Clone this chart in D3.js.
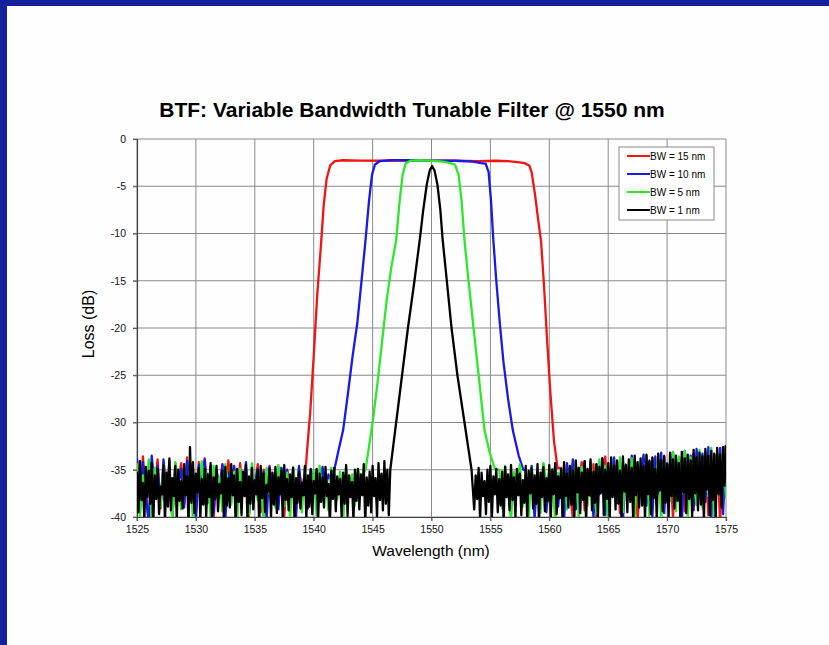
<!DOCTYPE html>
<html>
<head>
<meta charset="utf-8">
<script src="https://cdn.jsdelivr.net/npm/d3@7"></script>
<style>
  body { margin: 0; background: #fff; }
  svg { display: block; font-family: "Liberation Sans", Arial, sans-serif; }
</style>
</head>
<body>
<div id="chart"></div>
<script>
// les données (longueur d'onde en nm, perte en dB)
const STEP = 0.25;       // pas du bruit, courbes de couleur
const STEP_FINE = 0.125; // pas du bruit, courbe noire

const xTicks = [1525, 1530, 1535, 1540, 1545, 1550, 1555, 1560, 1565, 1570, 1575];
const yTicks = [0, -5, -10, -15, -20, -25, -30, -35, -40];
const names = ['BW = 15 nm', 'BW = 10 nm', 'BW = 5 nm', 'BW = 1 nm'];

// BW = 15 nm
const redLeftStart = 1525;
const redLeft = [
  -34.0,-38.9,-33.6,-37.2,-40.5,-34.4,-36.8,-33.9,-39.1,-34.8,
  -37.5,-34.1,-40.2,-35.0,-36.4,-34.3,-38.7,-33.7,-37.9,-34.9,
  -39.8,-34.2,-36.9,-33.8,-38.3,-34.6,-40.4,-35.1,-37.0,-34.5,
  -39.2,-34.0,-36.5,-34.9,-38.8,-34.3,-37.6,-35.2,-40.1,-34.7,
  -36.7,-34.4,-39.5,-35.0,-37.8,-34.6,-38.5,-35.3,-36.2,-34.8,
  -39.9,-35.1,-37.3,-34.9,-38.0,-35.2,-36.9];
const redPass = [
  [1539.3,-35.2],[1539.5,-32],[1539.7,-29],[1540.0,-23],[1540.3,-16.5],[1540.6,-11.5],
  [1540.85,-7],[1541.1,-4.2],[1541.4,-2.8],[1541.8,-2.35],[1542.5,-2.25],[1544,-2.28],
  [1546,-2.3],[1548,-2.25],[1550,-2.3],[1552,-2.3],[1554,-2.35],[1555.5,-2.3],
  [1556.5,-2.35],[1557.3,-2.45],[1557.9,-2.55],[1558.3,-2.8],[1558.5,-3.5],[1558.8,-6],
  [1559.05,-8.5],[1559.3,-10.8],[1559.55,-15.5],[1559.8,-21],[1560.1,-27],[1560.4,-32],[1560.7,-34.8]];
const redRightStart = 1561;
const redRight = [
  -34.8,-38.6,-34.5,-37.1,-40.2,-34.9,-36.6,-34.2,-39.3,-35.0,
  -37.8,-34.4,-40.0,-35.3,-36.9,-33.6,-38.8,-34.7,-37.4,-34.1,
  -39.6,-35.0,-36.3,-34.5,-38.2,-33.9,-40.3,-34.8,-37.0,-34.2,
  -39.1,-33.8,-36.7,-34.6,-38.4,-33.5,-37.7,-34.3,-40.1,-33.9,
  -36.4,-33.6,-39.4,-34.5,-37.6,-33.3,-38.7,-34.0,-36.1,-33.2,
  -39.8,-34.2,-37.2,-33.4,-40.6,-33.1,-32.4];

// BW = 10 nm
const blueLeftStart = 1525;
const blueLeft = [
  -33.8,-39.4,-34.2,-37.6,-40.8,-33.5,-36.9,-34.6,-38.8,-33.9,
  -37.3,-34.8,-40.1,-34.3,-36.5,-34.9,-39.0,-34.1,-37.8,-35.2,
  -40.4,-34.5,-36.7,-33.9,-38.5,-34.7,-39.6,-35.0,-37.1,-34.4,
  -40.2,-35.3,-36.8,-34.6,-38.9,-35.1,-37.5,-34.2,-39.7,-35.4,
  -36.6,-34.9,-38.1,-35.2,-40.3,-34.7,-37.4,-35.5,-39.2,-34.8,
  -36.9,-35.0,-38.6,-35.3,-40.0,-34.6,-37.7,-35.4,-39.1,-34.9,
  -36.3,-35.2,-38.4,-34.7,-37.0,-35.5,-36.2];
const bluePass = [
  [1541.75,-35],[1542.1,-33],[1542.5,-30.8],[1542.9,-27],[1543.3,-23],[1543.7,-19.5],
  [1544.1,-14.5],[1544.4,-10.7],[1544.7,-6.5],[1544.95,-3.8],[1545.2,-2.7],[1545.6,-2.35],
  [1546.5,-2.25],[1548,-2.25],[1550,-2.28],[1552,-2.3],[1553.5,-2.4],[1554.2,-2.55],
  [1554.6,-2.6],[1554.85,-3.5],[1555.05,-6.5],[1555.25,-10.7],[1555.5,-15],[1555.8,-19.5],
  [1556.1,-23.5],[1556.5,-27.5],[1556.9,-30.8],[1557.4,-33.5],[1557.8,-35]];
const blueRightStart = 1558;
const blueRight = [
  -35.1,-38.7,-34.6,-40.2,-35.3,-37.1,-34.4,-39.5,-35.0,-36.8,
  -34.7,-38.9,-35.2,-40.5,-34.3,-37.4,-33.9,-39.2,-34.8,-36.5,
  -34.1,-38.3,-35.0,-40.1,-34.5,-37.6,-33.8,-39.8,-34.6,-36.9,
  -33.7,-38.5,-34.2,-40.4,-34.9,-37.2,-33.5,-39.0,-34.4,-36.4,
  -33.4,-38.8,-34.0,-40.0,-33.6,-37.5,-33.2,-39.6,-34.3,-36.2,
  -33.1,-38.1,-33.8,-40.7,-33.0,-37.0,-33.5,-39.3,-32.8,-36.7,
  -33.3,-38.4,-32.6,-40.3,-33.4,-36.1,-32.7,-39.7,-33.0];

// BW = 5 nm
const greenLeftStart = 1525;
const greenLeft = [
  -34.3,-39.9,-35.6,-37.4,-33.9,-40.6,-34.8,-36.7,-38.9,-34.5,
  -37.8,-35.1,-40.3,-34.2,-36.4,-39.2,-35.0,-37.6,-34.7,-40.5,
  -35.4,-36.9,-34.1,-38.6,-35.3,-40.1,-34.6,-37.2,-35.8,-39.4,
  -34.4,-36.6,-38.7,-35.2,-40.4,-34.9,-37.0,-35.5,-39.8,-34.3,
  -36.8,-38.2,-35.0,-40.7,-34.8,-37.5,-35.6,-39.0,-34.5,-36.3,
  -38.9,-35.3,-40.2,-34.7,-37.3,-35.9,-39.5,-34.9,-36.5,-38.4,
  -35.1,-40.0,-34.6,-37.7,-35.4,-39.3,-34.8,-36.2,-38.1,-35.2,
  -40.6,-34.7,-37.1,-35.5,-38.8,-34.9,-36.0];
const greenPass = [
  [1544.4,-35],[1544.7,-32.5],[1545.0,-30],[1545.4,-26],[1545.8,-21.5],[1546.2,-17],
  [1546.6,-13.5],[1547.0,-10.7],[1547.3,-6.5],[1547.55,-3.8],[1547.8,-2.6],[1548.2,-2.3],
  [1549,-2.25],[1550,-2.3],[1551,-2.4],[1551.6,-2.55],[1552.0,-2.7],[1552.3,-3.8],
  [1552.55,-6.5],[1552.8,-10.7],[1553.1,-14.5],[1553.4,-18],[1553.7,-21.5],[1554.0,-25],
  [1554.5,-30.8],[1554.9,-33],[1555.4,-35]];
const greenRightStart = 1555.75;
const greenRight = [
  -35.0,-39.1,-34.6,-37.3,-40.4,-35.2,-36.7,-34.4,-38.9,-35.5,
  -40.2,-34.8,-37.0,-35.1,-39.6,-34.3,-36.4,-38.5,-34.9,-40.6,
  -35.3,-37.7,-34.5,-39.2,-35.0,-36.9,-34.1,-40.1,-34.7,-37.4,
  -38.8,-34.2,-36.3,-39.7,-33.9,-37.1,-34.6,-40.3,-34.0,-36.6,
  -38.4,-33.7,-39.5,-34.4,-37.6,-33.8,-40.0,-34.2,-36.1,-38.7,
  -33.5,-39.9,-34.0,-37.2,-33.4,-40.5,-33.9,-36.8,-38.3,-33.1,
  -39.4,-33.6,-37.5,-33.0,-40.2,-33.7,-36.4,-38.6,-32.9,-39.1,
  -33.4,-37.8,-32.7,-40.4,-33.2,-36.5,-32.6,-38.0];

// BW = 1 nm (bruit plus serré)
const blackLeftStart = 1525;
const blackLeft = [
  -35.2,-39.5,-34.1,-38.2,-36.4,-40.3,-34.7,-37.9,-35.1,-38.6,-34.3,-41.0,
  -35.6,-38.1,-34.9,-39.7,-36.8,-37.6,-34.5,-40.6,-35.3,-38.9,-33.8,-39.3,
  -35.9,-37.8,-34.6,-40.4,-35.0,-38.3,-36.2,-39.1,-34.4,-37.7,-35.7,-40.8,
  -32.6,-38.5,-34.2,-39.6,-35.4,-37.4,-34.8,-40.1,-36.0,-38.7,-34.9,-39.9,
  -35.5,-37.9,-34.3,-40.5,-35.8,-38.1,-34.6,-39.4,-36.5,-37.5,-35.1,-40.2,
  -34.7,-38.8,-35.9,-39.0,-34.4,-37.7,-35.6,-40.7,-34.9,-38.4,-36.3,-39.8,
  -35.2,-37.8,-34.5,-40.3,-35.7,-38.6,-34.8,-39.2,-36.1,-37.6,-35.0,-40.9,
  -34.6,-38.0,-35.4,-39.5,-36.6,-37.3,-34.9,-40.0,-35.3,-38.7,-34.7,-39.6,
  -35.8,-37.6,-35.1,-40.4,-34.5,-38.2,-36.0,-39.3,-35.5,-37.9,-34.8,-40.6,
  -35.9,-38.5,-35.2,-39.1,-36.4,-37.7,-34.6,-40.2,-35.6,-38.9,-35.0,-39.7,
  -36.2,-37.5,-34.9,-40.5,-35.4,-38.4,-35.8,-39.0,-34.7,-37.8,-36.5,-40.8,
  -35.1,-38.1,-34.8,-39.4,-35.7,-37.6,-36.0,-40.1,-35.3,-38.6,-34.5,-39.9,
  -35.6,-37.9,-36.3,-40.4,-35.0,-38.3,-34.9,-39.2,-35.5,-37.7,-34.4,-40.7,
  -35.8,-38.8,-35.2,-39.5,-34.6,-37.8,-35.9,-40.0,-34.3,-38.2,-35.4,-39.3,
  -34.1,-38.6,-35.0,-39.8];
const blackPass = [
  [1546.5,-35],[1546.75,-32.5],[1547.0,-30],[1547.5,-25],[1548.0,-20],[1548.5,-15.5],
  [1549.0,-10.7],[1549.3,-7.5],[1549.6,-4.8],[1549.85,-3.3],[1550.05,-2.85],[1550.25,-3.3],
  [1550.5,-4.8],[1550.75,-7.5],[1550.95,-10.7],[1551.3,-15],[1551.7,-20],[1552.2,-25],
  [1552.8,-30],[1553.1,-32.5],[1553.4,-35]];
const blackRightStart = 1553.625;
const blackRight = [
  -39.2,-35.6,-38.1,-34.8,-40.4,-35.3,-37.8,-36.2,-39.7,-35.0,-38.4,-34.6,
  -40.1,-35.7,-37.6,-34.9,-39.5,-36.0,-38.8,-35.2,-40.6,-34.7,-37.9,-35.5,
  -39.3,-34.5,-38.2,-35.8,-40.0,-34.9,-37.7,-35.4,-39.8,-36.1,-38.5,-34.6,
  -40.3,-35.1,-37.5,-34.8,-39.1,-35.6,-38.6,-34.4,-40.8,-35.3,-37.9,-34.7,
  -39.4,-35.9,-38.3,-34.5,-40.2,-35.0,-37.6,-34.3,-39.7,-35.7,-38.0,-34.9,
  -40.5,-34.2,-37.8,-35.4,-39.0,-34.6,-38.7,-35.1,-40.1,-34.0,-37.4,-34.8,
  -39.6,-35.3,-38.2,-34.1,-40.7,-34.9,-37.7,-33.9,-39.3,-35.2,-38.5,-34.4,
  -40.0,-34.7,-37.5,-33.8,-39.8,-35.0,-38.1,-34.3,-40.4,-33.7,-37.9,-34.6,
  -39.2,-34.0,-38.6,-35.1,-40.2,-33.6,-37.3,-34.5,-39.5,-33.9,-38.4,-34.8,
  -40.6,-33.5,-37.7,-34.2,-39.0,-33.8,-38.8,-34.6,-40.3,-33.4,-37.6,-34.1,
  -39.7,-33.7,-38.0,-34.9,-40.5,-33.3,-37.2,-34.0,-39.4,-33.6,-38.5,-34.4,
  -40.1,-33.2,-37.8,-33.9,-39.1,-33.5,-38.3,-34.3,-40.7,-33.1,-37.4,-33.8,
  -39.6,-33.4,-38.1,-34.0,-40.0,-32.9,-37.5,-33.7,-39.3,-33.2,-38.7,-33.6,
  -40.4,-32.8,-37.1,-33.5,-39.8,-33.0,-38.2,-33.3,-40.2,-32.7,-37.6,-33.4,
  -39.0,-32.6,-36.7,-32.4];

// assemble une trace : bruit gauche + bande passante + bruit droit
const noise = (start, vals, step) => vals.map((v, i) => [start + i * step, v]);
const trace = (ls, l, pass, rs, r, step) => noise(ls, l, step).concat(pass, noise(rs, r, step));

const SERIES = [
  { name: names[0], color: '#f01414', pts: trace(redLeftStart, redLeft, redPass, redRightStart, redRight, STEP) },
  { name: names[1], color: '#1a1ae6', pts: trace(blueLeftStart, blueLeft, bluePass, blueRightStart, blueRight, STEP) },
  { name: names[2], color: '#2ee62a', pts: trace(greenLeftStart, greenLeft, greenPass, greenRightStart, greenRight, STEP) },
  { name: names[3], color: '#000000', pts: trace(blackLeftStart, blackLeft, blackPass, blackRightStart, blackRight, STEP_FINE) }
];

const WIDTH = 829;
const HEIGHT = 645;
const PLOT = { left: 137, right: 726, top: 139, bottom: 517 };

const svg = d3.select('#chart').append('svg').attr('width', WIDTH).attr('height', HEIGHT);

// cadre bleu de la diapo
svg.append('rect').attr('width', WIDTH).attr('height', HEIGHT).attr('fill', '#15209c');
svg.append('rect').attr('x', 7).attr('y', 6).attr('width', WIDTH - 7).attr('height', HEIGHT - 6).attr('fill', '#fefefe');

const x = d3.scaleLinear().domain([1525, 1575]).range([PLOT.left, PLOT.right]);
const y = d3.scaleLinear().domain([-40, 0]).range([PLOT.bottom, PLOT.top]);

// titre
svg.append('text')
  .attr('x', 412).attr('y', 117)
  .attr('text-anchor', 'middle')
  .style('font-size', '21px').style('font-weight', 'bold')
  .text('BTF: Variable Bandwidth Tunable Filter @ 1550 nm');

// grille
const grid = svg.append('g');
grid.selectAll('line.v').data(xTicks).enter().append('line')
  .attr('x1', d => x(d)).attr('x2', d => x(d))
  .attr('y1', PLOT.top).attr('y2', PLOT.bottom + 4)
  .attr('stroke', '#8a8a8a').attr('stroke-width', 1);
grid.selectAll('line.h').data(yTicks).enter().append('line')
  .attr('y1', d => y(d)).attr('y2', d => y(d))
  .attr('x1', PLOT.left - 4).attr('x2', PLOT.right)
  .attr('stroke', '#8a8a8a').attr('stroke-width', 1);

// axes
const xAxis = svg.append('g').attr('transform', `translate(0,${PLOT.bottom})`)
  .call(d3.axisBottom(x).tickValues(xTicks).tickSize(4).tickPadding(5).tickFormat(d3.format('d')));
const yAxis = svg.append('g').attr('transform', `translate(${PLOT.left},0)`)
  .call(d3.axisLeft(y).tickValues(yTicks).tickSize(4).tickPadding(7).tickFormat(d => d));
[xAxis, yAxis].forEach(a => {
  a.select('.domain').attr('stroke', '#444').attr('stroke-width', 1.2);
  a.selectAll('.tick line').attr('stroke', '#555');
  a.selectAll('text').style('font-size', '10.5px').style('font-family', '"Liberation Sans", Arial, sans-serif').attr('fill', '#111');
});

// les courbes, coupées au cadre
svg.append('clipPath').attr('id', 'clip').append('rect')
  .attr('x', PLOT.left).attr('y', PLOT.top)
  .attr('width', PLOT.right - PLOT.left).attr('height', PLOT.bottom - PLOT.top);

const line = d3.line().x(d => x(d[0])).y(d => y(d[1]));

svg.append('g').attr('clip-path', 'url(#clip)')
  .selectAll('path').data(SERIES).enter().append('path')
  .attr('d', d => line(d.pts))
  .attr('fill', 'none')
  .attr('stroke', d => d.color)
  .attr('stroke-width', 2.3)
  .attr('stroke-linejoin', 'round');

// titres des axes
svg.append('text')
  .attr('x', 431).attr('y', 556)
  .attr('text-anchor', 'middle')
  .style('font-size', '15.5px')
  .text('Wavelength (nm)');
svg.append('text')
  .attr('transform', 'translate(94,324) rotate(-90)')
  .attr('text-anchor', 'middle')
  .style('font-size', '16px')
  .text('Loss (dB)');

// la légende
const legend = svg.append('g');
legend.append('rect')
  .attr('x', 619).attr('y', 147).attr('width', 95).attr('height', 73)
  .attr('fill', '#fff').attr('stroke', '#8a8a8a');

const ROW = 18;
legend.selectAll('line').data(SERIES).enter().append('line')
  .attr('x1', 627).attr('x2', 650)
  .attr('y1', (d, i) => 156 + i * ROW).attr('y2', (d, i) => 156 + i * ROW)
  .attr('stroke', d => d.color).attr('stroke-width', 2);
legend.selectAll('text').data(SERIES).enter().append('text')
  .attr('x', 650).attr('y', (d, i) => 156 + i * ROW + 3.5)
  .style('font-size', '10px')
  .text(d => d.name);
</script>
</body>
</html>
